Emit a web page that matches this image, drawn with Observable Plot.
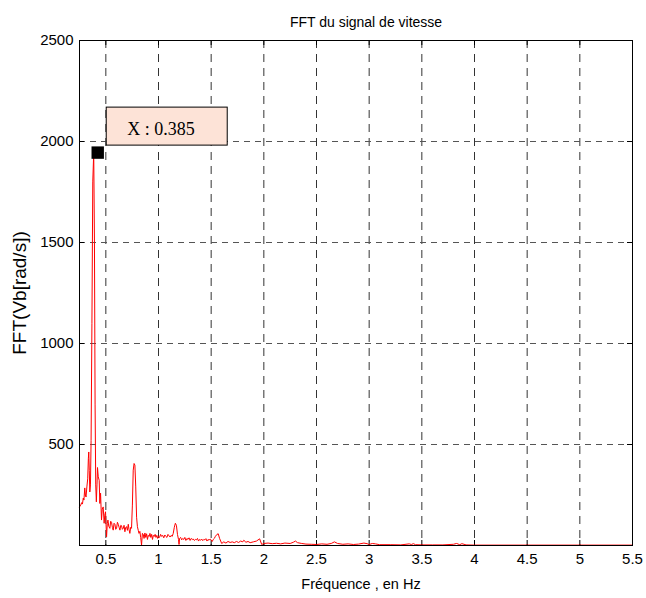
<!DOCTYPE html>
<html>
<head>
<meta charset="utf-8">
<script src="https://cdn.jsdelivr.net/npm/d3@7"></script>
<script src="https://cdn.jsdelivr.net/npm/@observablehq/plot@0.6"></script>
<style>
  html, body { margin: 0; padding: 0; background: #fff; }
</style>
</head>
<body>
<div id="chart"></div>
<script>
const titleText = "FFT du signal de vitesse";
const xLabel = "Fréquence , en Hz";
const yLabel = "FFT(Vb[rad/s])";
const xTicks = [0.5, 1, 1.5, 2, 2.5, 3, 3.5, 4, 4.5, 5, 5.5];
const yTicks = [500, 1000, 1500, 2000, 2500];
const xDomain = [0.25, 5.5];
const yDomain = [0, 2500];
const peakX = 0.385;
const peakY = 1945;
const tipLabel = "X : 0.385";

const freqHz = [
  0.250, 0.262, 0.270, 0.278, 0.286, 0.292, 0.300, 0.306, 0.312, 0.320,
  0.328, 0.334, 0.338, 0.343, 0.348, 0.354, 0.360, 0.368, 0.376, 0.385,
  0.392, 0.398, 0.404, 0.410, 0.416, 0.421, 0.428, 0.437, 0.443, 0.450,
  0.459, 0.466, 0.475, 0.484, 0.490, 0.497, 0.507, 0.514, 0.520, 0.528,
  0.538, 0.546, 0.554, 0.562, 0.570, 0.578, 0.586, 0.594, 0.602, 0.610,
  0.618, 0.626, 0.634, 0.642, 0.649, 0.657, 0.665, 0.673, 0.681, 0.689,
  0.697, 0.705, 0.713, 0.720, 0.728, 0.736, 0.744, 0.752, 0.760, 0.768,
  0.776, 0.784, 0.792, 0.800, 0.808, 0.815, 0.823, 0.831, 0.839, 0.847,
  0.855, 0.863, 0.871, 0.879, 0.887, 0.895, 0.903, 0.911, 0.919, 0.927,
  0.935, 0.943, 0.951, 0.960, 0.968, 0.976, 0.984, 0.992, 1.000, 1.010,
  1.020, 1.030, 1.040, 1.050, 1.060, 1.070, 1.080, 1.090, 1.100, 1.110,
  1.120, 1.130, 1.140, 1.150, 1.160, 1.170, 1.180, 1.190, 1.195, 1.200,
  1.210, 1.220, 1.230, 1.240, 1.250, 1.260, 1.270, 1.280, 1.290, 1.300,
  1.310, 1.320, 1.330, 1.340, 1.350, 1.360, 1.370, 1.380, 1.390, 1.400,
  1.410, 1.420, 1.430, 1.440, 1.450, 1.460, 1.470, 1.480, 1.490, 1.500,
  1.510, 1.520, 1.530, 1.540, 1.555, 1.567, 1.580, 1.600, 1.620, 1.640,
  1.660, 1.680, 1.700, 1.720, 1.740, 1.760, 1.780, 1.800, 1.810, 1.830,
  1.850, 1.870, 1.900, 1.930, 1.960, 1.980, 2.000, 2.040, 2.080, 2.120,
  2.160, 2.200, 2.250, 2.280, 2.300, 2.320, 2.360, 2.400, 2.450, 2.500,
  2.550, 2.600, 2.640, 2.670, 2.700, 2.750, 2.800, 2.850, 2.900, 2.950,
  2.980, 3.000, 3.030, 3.060, 3.100, 3.200, 3.300, 3.380, 3.400, 3.420,
  3.440, 3.500, 3.600, 3.700, 3.800, 3.830, 3.860, 3.880, 3.920, 4.000,
  4.500, 5.000, 5.500
];
const fftAmp = [
  191, 200, 212, 205, 235, 225, 285, 250, 240, 290,
  330, 430, 463, 370, 265, 300, 520, 1100, 1800, 1945,
  1500, 700, 300, 216, 300, 386, 340, 323, 208, 259,
  126, 180, 191, 110, 150, 167, 43, 110, 126, 95,
  85, 120, 115, 90, 76, 110, 105, 80, 85, 115,
  105, 90, 76, 100, 98, 80, 85, 100, 68, 90,
  93, 75, 105, 80, 60, 90, 85, 200, 373, 406,
  398, 290, 140, 93, 75, 60, 70, 40, 2, 60,
  55, 35, 62, 40, 58, 30, 50, 45, 60, 40,
  55, 30, 50, 45, 55, 40, 50, 35, 45, 40,
  55, 45, 50, 38, 52, 45, 40, 55, 48, 42,
  50, 45, 60, 90, 110, 100, 55, 30, 5, 35,
  40, 28, 35, 30, 40, 25, 35, 30, 38, 25,
  35, 30, 32, 25, 30, 28, 35, 22, 30, 26,
  32, 24, 30, 28, 34, 22, 30, 26, 32, 28,
  20, 30, 35, 45, 55, 58, 35, 10, 18, 12,
  20, 15, 18, 14, 20, 15, 22, 18, 26, 16,
  20, 14, 18, 22, 33, 5, 10, 12, 9, 11,
  8, 12, 10, 16, 22, 14, 10, 7, 6, 5,
  8, 6, 10, 18, 10, 6, 8, 5, 7, 12,
  9, 5, 10, 8, 4, 4, 3, 8, 5, 9,
  4, 3, 3, 3, 6, 10, 4, 9, 3, 2,
  2, 2, 2
];

const data = freqHz.map((f, i) => ({f, a: fftAmp[i]}));

const W = 646, H = 598;
const mL = 79, mR = 14, mT = 40, mB = 53;
const innerW = W - mL - mR, innerH = H - mT - mB;
const tick = 5;
const fmt = d => String(d);

const chart = Plot.plot({
  width: W,
  height: H,
  marginLeft: mL,
  marginRight: mR,
  marginTop: mT,
  marginBottom: mB,
  style: {fontFamily: "'Liberation Sans', Arial, sans-serif", fontSize: "15px", color: "#000", background: "#fff"},
  x: {domain: xDomain, ticks: xTicks, tickFormat: fmt},
  y: {domain: yDomain, ticks: yTicks, tickFormat: fmt},
  marks: [
    Plot.ruleX(xTicks, {stroke: "#333", strokeWidth: 1, strokeDasharray: "8,6"}),
    Plot.ruleY(yTicks, {stroke: "#555", strokeWidth: 1, strokeDasharray: "6,5"}),
    // inward ticks on all four sides
    Plot.ruleX(xTicks, {stroke: "#000", insetTop: innerH - tick}),
    Plot.ruleX(xTicks, {stroke: "#000", insetBottom: innerH - tick}),
    Plot.ruleY(yTicks, {stroke: "#000", insetRight: innerW - tick}),
    Plot.ruleY(yTicks, {stroke: "#000", insetLeft: innerW - tick}),
    Plot.line(data, {x: "f", y: "a", stroke: "#ff0000", strokeWidth: 1}),
    Plot.frame({stroke: "#000", strokeWidth: 1}),
    Plot.axisX({anchor: "bottom", ticks: xTicks, tickFormat: fmt, tickSize: 0, tickPadding: 8, label: null, fontSize: 15}),
    Plot.axisY({anchor: "left", ticks: yTicks, tickFormat: fmt, tickSize: 0, tickPadding: 6, label: null, fontSize: 15}),
    Plot.text([titleText], {frameAnchor: "top", dy: -23, dx: 10, fontSize: 14}),
    Plot.text([xLabel], {frameAnchor: "bottom", dy: 43, dx: 5, fontSize: 14.5}),
    Plot.text([yLabel], {frameAnchor: "left", textAnchor: "middle", dx: -60, rotate: -90, fontSize: 19}),
    Plot.dot([{x: peakX, y: peakY}], {x: "x", y: "y", symbol: "square", r: 7, fill: "#000", stroke: "none", dx: 4})
  ]
});

// datatip box anchored to the peak point via the plot's scales
const px = chart.scale("x").apply(peakX);
const py = chart.scale("y").apply(peakY);
const svg = d3.select(chart);
svg.append("rect")
  .attr("x", px + 13).attr("y", py - 45)
  .attr("width", 121).attr("height", 38)
  .attr("fill", "#fde3d7").attr("stroke", "#000").attr("stroke-width", 1);
svg.append("text")
  .attr("x", px + 34).attr("y", py - 17)
  .attr("text-anchor", "start")
  .attr("font-family", "'Liberation Serif', 'Times New Roman', serif")
  .attr("font-size", 18)
  .attr("fill", "#000")
  .text(tipLabel);

document.getElementById("chart").appendChild(chart);
</script>
</body>
</html>
